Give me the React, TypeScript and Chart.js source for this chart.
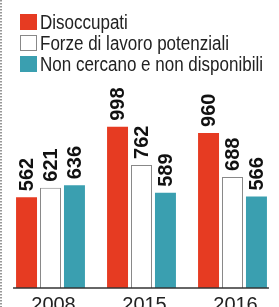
import React, { useEffect, useRef } from "react";
import { Chart, registerables } from "chart.js";

Chart.register(...registerables);

const categories = ["2008", "2015", "2016"];
const seriesNames = ["Disoccupati", "Forze di lavoro potenziali", "Non cercano e non disponibili"];
const disoccupati = [562, 998, 960];
const forzeLavoro = [621, 762, 688];
const nonCercano = [636, 589, 566];

const RED = "#e63b22";
const WHITE = "#ffffff";
const TEAL = "#3a9fb0";
const FONT = "'Liberation Sans', Arial, sans-serif";

const customPlugin = {
  id: "custom",
  afterDraw(chart: any) {
    const ctx = chart.ctx;
    const area = chart.chartArea;
    ctx.save();
    // left dotted border
    ctx.strokeStyle = "#777";
    ctx.lineWidth = 1.5;
    ctx.setLineDash([1.5, 1.5]);
    ctx.beginPath();
    ctx.moveTo(1, 0);
    ctx.lineTo(1, chart.height);
    ctx.stroke();
    ctx.setLineDash([]);

    // legend
    const legendY = [14, 35, 56];
    ctx.font = `19.5px ${FONT}`;
    ctx.textBaseline = "alphabetic";
    ctx.textAlign = "left";
    const longest = Math.max(...chart.data.datasets.map((d: any) => ctx.measureText(d.label).width));
    const sx = 223 / longest;
    chart.data.datasets.forEach((ds: any, i: number) => {
      const y = legendY[i];
      ctx.fillStyle = ds.backgroundColor;
      ctx.fillRect(20, y, 17, 16);
      if (i === 1) {
        ctx.strokeStyle = "#888";
        ctx.lineWidth = 1;
        ctx.strokeRect(20.5, y + 0.5, 16, 15);
      }
      ctx.fillStyle = "#222";
      ctx.save();
      ctx.translate(40, y + 15);
      ctx.scale(sx, 1);
      ctx.fillText(ds.label, 0, 0);
      ctx.restore();
    });

    // value labels
    ctx.font = `bold 20px ${FONT}`;
    ctx.fillStyle = "#111";
    chart.data.datasets.forEach((ds: any, i: number) => {
      const meta = chart.getDatasetMeta(i);
      meta.data.forEach((bar: any, j: number) => {
        ctx.save();
        ctx.translate(bar.x, bar.y - 6);
        ctx.rotate(-Math.PI / 2);
        ctx.textAlign = "left";
        ctx.textBaseline = "middle";
        ctx.fillText(String(ds.data[j]), 0, 1);
        ctx.restore();
      });
    });

    // baseline
    const first = chart.getDatasetMeta(0).data[0];
    const last = chart.getDatasetMeta(2).data[2];
    ctx.strokeStyle = "#333";
    ctx.lineWidth = 1.5;
    ctx.beginPath();
    ctx.moveTo(first.x - first.width / 2 - 3, area.bottom);
    ctx.lineTo(last.x + last.width / 2 + 2, area.bottom);
    ctx.stroke();

    // category labels
    ctx.font = `20px ${FONT}`;
    ctx.fillStyle = "#222";
    ctx.textAlign = "center";
    ctx.textBaseline = "alphabetic";
    const xs = chart.scales.x;
    categories.forEach((c, i) => {
      ctx.fillText(c, xs.getPixelForValue(i) + 3, area.bottom + 23);
    });
    ctx.restore();
  },
};

export default function App() {
  const ref = useRef<HTMLCanvasElement>(null);
  useEffect(() => {
    document.body.style.margin = "0";
    const chart = new Chart(ref.current!, {
      type: "bar",
      data: {
        labels: categories,
        datasets: [
          { label: seriesNames[0], data: disoccupati, backgroundColor: RED, borderWidth: 0 },
          { label: seriesNames[1], data: forzeLavoro, backgroundColor: WHITE, borderColor: "#888", borderWidth: 1 },
          { label: seriesNames[2], data: nonCercano, backgroundColor: TEAL, borderWidth: 0 },
        ],
      },
      options: {
        animation: false,
        responsive: false,
        maintainAspectRatio: false,
        layout: { padding: { top: 100, bottom: 19, left: 5, right: 1 } },
        datasets: { bar: { barPercentage: 0.875, categoryPercentage: 0.79 } },
        plugins: { legend: { display: false }, tooltip: { enabled: false } },
        scales: {
          x: { display: false },
          y: { display: false, min: 0, max: 1164 },
        },
      },
      plugins: [customPlugin],
    });
    return () => chart.destroy();
  }, []);
  return (
    <div style={{ width: 279, height: 307, background: "#fff" }}>
      <canvas ref={ref} width={279} height={307} />
    </div>
  );
}
